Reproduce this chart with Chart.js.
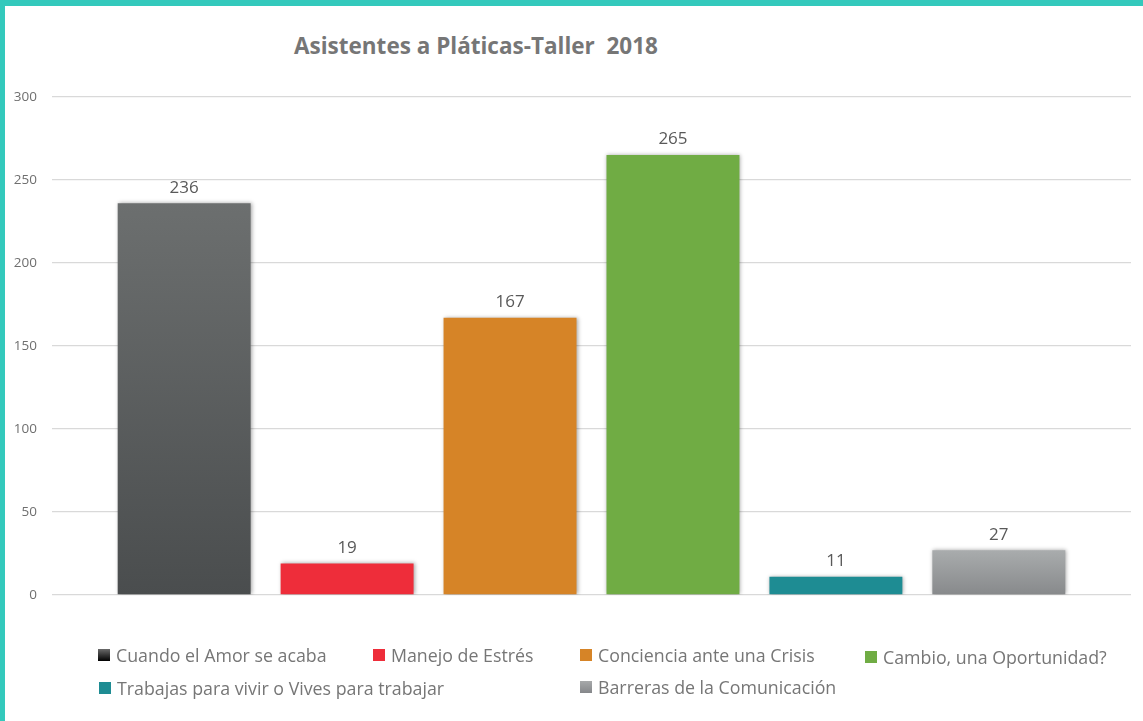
<!DOCTYPE html>
<html lang="es">
<head>
<meta charset="utf-8">
<title>Asistentes a Pláticas-Taller 2018</title>
<script src="https://cdn.jsdelivr.net/npm/chart.js@4.4.1/dist/chart.umd.min.js"></script>
<style>
    html, body {
        margin: 0;
        padding: 0;
        background: #ffffff;
    }
    .frame {
        position: relative;
        width: 1143px;
        height: 721px;
        box-sizing: border-box;
        border-top: 6px solid #33c9bc;
        border-left: 5px solid #33c9bc;
        overflow: hidden;
    }
    #chartTitle {
        position: absolute;
        left: 0;
        width: 942px;
        top: 24px;
        margin: 0;
        text-align: center;
        font-family: "Open Sans", sans-serif;
        font-weight: 700;
        font-size: 22.5px;
        color: #767676;
        white-space: pre;
    }
    #asistentesChart {
        position: absolute;
        left: -5px;
        top: -6px;
    }
    #legend {
        position: absolute;
        left: 0;
        top: 0;
        font-family: "Open Sans", sans-serif;
        font-size: 17.8px;
        color: #767676;
    }
    .legend-item {
        position: absolute;
        white-space: nowrap;
        display: flex;
        align-items: center;
    }
    .legend-box {
        width: 12px;
        height: 12px;
        margin-right: 6px;
    }
</style>
</head>
<body>
<div class="frame">
    <h1 id="chartTitle">Asistentes a Pláticas-Taller  2018</h1>
    <canvas id="asistentesChart" width="1143" height="721"></canvas>
    <div id="legend"></div>
</div>
<script>
// Pláticas impartidas y número de asistentes
const talleres = [
    'Cuando el Amor se acaba',
    'Manejo de Estrés',
    'Conciencia ante una Crisis',
    'Cambio, una Oportunidad?',
    'Trabajas para vivir o Vives para trabajar',
    'Barreras de la Comunicación'
];
const asistentes = [236, 19, 167, 265, 11, 27];
const yTicks = [0, 50, 100, 150, 200, 250, 300];

// colores: [arriba, abajo] para los degradados
const barColors = [
    ['#6c6f6f', '#4a4d4e'],
    ['#ee2d3a', '#ee2d3a'],
    ['#d68427', '#d68427'],
    ['#70ac44', '#70ac44'],
    ['#1e8c93', '#1e8c93'],
    ['#a9acad', '#87898b']
];
const legendBoxColors = [
    ['#6a6a6a', '#000000'],
    ['#ee2d3a', '#ee2d3a'],
    ['#d68427', '#d68427'],
    ['#70ac44', '#70ac44'],
    ['#1e8c93', '#1e8c93'],
    ['#a7a9aa', '#85878a']
];
// posición de cada entrada de la leyenda (px)
const legendPos = [
    [98, 656], [373, 656], [580, 656], [865, 658],
    [99, 689], [580, 688]
];

function barGradient(context, pair) {
    const chart = context.chart;
    const area = chart.chartArea;
    if (!area || !context.parsed) {
        return pair[0];
    }
    const y = chart.scales.y;
    const top = y.getPixelForValue(context.parsed.y);
    const bottom = y.getPixelForValue(0);
    if (!isFinite(top) || bottom - top < 1) {
        return pair[0];
    }
    const g = chart.ctx.createLinearGradient(0, top, 0, bottom);
    g.addColorStop(0, pair[0]);
    g.addColorStop(1, pair[1]);
    return g;
}

const datasets = talleres.map((name, i) => ({
    label: name,
    data: [asistentes[i]],
    backgroundColor: ctx => barGradient(ctx, barColors[i]),
    borderWidth: 0,
    barPercentage: 0.816,
    categoryPercentage: 0.906
}));

// sombra suave detrás de las barras
const barShadow = {
    id: 'barShadow',
    beforeDatasetsDraw(chart) {
        const ctx = chart.ctx;
        ctx.save();
        ctx.shadowColor = 'rgba(0, 0, 0, 0.35)';
        ctx.shadowBlur = 4;
        ctx.shadowOffsetX = 1;
        ctx.shadowOffsetY = 0;
    },
    afterDatasetsDraw(chart) {
        chart.ctx.restore();
    }
};

// valor encima de cada barra
const valueLabels = {
    id: 'valueLabels',
    afterDatasetsDraw(chart) {
        const ctx = chart.ctx;
        ctx.save();
        ctx.font = '17px "Open Sans", sans-serif';
        ctx.fillStyle = '#595959';
        ctx.textAlign = 'center';
        ctx.textBaseline = 'bottom';
        chart.data.datasets.forEach((ds, i) => {
            const meta = chart.getDatasetMeta(i);
            meta.data.forEach((bar, j) => {
                ctx.fillText(String(ds.data[j]), bar.x, bar.y - 7);
            });
        });
        ctx.restore();
    }
};

const chart = new Chart(document.getElementById('asistentesChart'), {
    type: 'bar',
    data: {
        labels: ['2018'],
        datasets: datasets
    },
    options: {
        responsive: false,
        animation: false,
        layout: {
            padding: { top: 97, right: 12, bottom: 126, left: 0 }
        },
        plugins: {
            legend: { display: false },
            title: { display: false },
            tooltip: { enabled: false }
        },
        scales: {
            x: {
                display: false,
                offset: true
            },
            y: {
                min: 0,
                max: 300,
                afterBuildTicks: scale => {
                    scale.ticks = yTicks.map(v => ({ value: v }));
                },
                afterFit: scale => {
                    scale.width = 52;
                },
                border: { display: false },
                grid: {
                    color: '#d9d9d9',
                    lineWidth: 1.3,
                    drawTicks: false
                },
                ticks: {
                    padding: 15,
                    color: '#6f6f6f',
                    font: { family: '"Open Sans", sans-serif', size: 13.5 }
                }
            }
        }
    },
    plugins: [barShadow, valueLabels]
});

// leyenda en HTML
const legendEl = document.getElementById('legend');
chart.data.datasets.forEach((ds, i) => {
    const item = document.createElement('div');
    item.className = 'legend-item';
    item.style.left = (legendPos[i][0] - 5) + 'px';
    item.style.top = (legendPos[i][1] - 6 - 13) + 'px';
    const box = document.createElement('span');
    box.className = 'legend-box';
    box.style.background = 'linear-gradient(' + legendBoxColors[i][0] + ', ' + legendBoxColors[i][1] + ')';
    const text = document.createElement('span');
    text.textContent = ds.label;
    item.appendChild(box);
    item.appendChild(text);
    legendEl.appendChild(item);
});
</script>
</body>
</html>
